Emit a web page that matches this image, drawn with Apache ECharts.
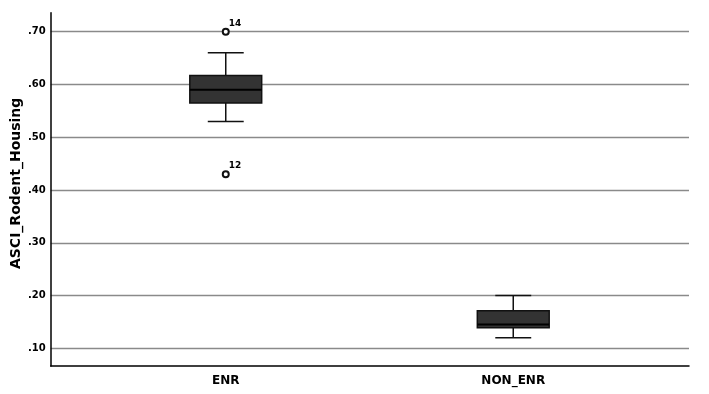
<!DOCTYPE html>
<html>
<head>
<meta charset="utf-8">
<script src="https://cdn.jsdelivr.net/npm/echarts@6/dist/echarts.min.js"></script>
<style>
  html, body { margin: 0; padding: 0; background: #fff; }
  #chart { width: 709px; height: 394px; }
</style>
</head>
<body>
<div id="chart"></div>
<script>
// box statistics per group
var categories = ['ENR', 'NON_ENR'];
var lowWhisker = [0.53, 0.12];
var q1 = [0.565, 0.139];
var median = [0.59, 0.145];
var q3 = [0.617, 0.171];
var highWhisker = [0.66, 0.20];

// outliers with case numbers
var outlierCat = ['ENR', 'ENR'];
var outlierVal = [0.70, 0.43];
var outlierId = ['14', '12'];

var yTicks = [0.10, 0.20, 0.30, 0.40, 0.50, 0.60, 0.70];
var yMin = 0.0665;
var yMax = 0.736;

var chart = echarts.init(document.getElementById('chart'));

var boxData = categories.map(function (c, i) {
    return [i, lowWhisker[i], q1[i], median[i], q3[i], highWhisker[i]];
});
var outlierData = outlierVal.map(function (v, i) {
    return [outlierCat[i], v, outlierId[i]];
});

// draws one SPSS-style box with half-width caps
function renderBox(params, api) {
    var idx = api.value(0);
    var x = api.coord([idx, 0])[0];
    var w = api.size([1, 0])[0] * 0.25;
    var yLo = api.coord([idx, api.value(1)])[1];
    var yQ1 = api.coord([idx, api.value(2)])[1];
    var yMed = api.coord([idx, api.value(3)])[1];
    var yQ3 = api.coord([idx, api.value(4)])[1];
    var yHi = api.coord([idx, api.value(5)])[1];
    var line = { stroke: '#111', lineWidth: 1.5 };
    return {
        type: 'group',
        children: [
            { type: 'line', shape: { x1: x, y1: yLo, x2: x, y2: yQ1 }, style: line },
            { type: 'line', shape: { x1: x, y1: yQ3, x2: x, y2: yHi }, style: line },
            { type: 'line', shape: { x1: x - w / 4, y1: yLo, x2: x + w / 4, y2: yLo }, style: line },
            { type: 'line', shape: { x1: x - w / 4, y1: yHi, x2: x + w / 4, y2: yHi }, style: line },
            { type: 'rect', shape: { x: x - w / 2, y: yQ3, width: w, height: yQ1 - yQ3 },
              style: { fill: '#333333', stroke: '#111', lineWidth: 1.5 } },
            { type: 'line', shape: { x1: x - w / 2, y1: yMed, x2: x + w / 2, y2: yMed },
              style: { stroke: '#000', lineWidth: 2 } }
        ]
    };
}

var option = {
    backgroundColor: '#ffffff',
    animation: false,
    grid: [
        { left: 50.7, right: 20, top: 12.7, bottom: 28, outerBoundsMode: 'none' },
        { left: 82, right: 52, top: 12.7, bottom: 28, outerBoundsMode: 'none' }
    ],
    xAxis: [
        {
            gridIndex: 0, type: 'value', min: 0, max: 1,
            axisLine: { show: true, lineStyle: { color: '#000', width: 1.5 } },
            axisTick: { show: false }, axisLabel: { show: false }, splitLine: { show: false }
        },
        {
            gridIndex: 1, type: 'category', data: categories,
            axisLine: { show: false }, axisTick: { show: false },
            axisLabel: {
                margin: 9, color: '#000', fontSize: 12, fontWeight: 'bold',
                fontFamily: 'DejaVu Sans'
            }
        }
    ],
    yAxis: [
        {
            gridIndex: 0, type: 'value', min: yMin, max: yMax,
            name: 'ASCI_Rodent_Housing', nameLocation: 'middle', nameGap: 27,
            nameMoveOverlap: false,
            nameTextStyle: { color: '#000', fontSize: 14, fontWeight: 'bold', fontFamily: 'DejaVu Sans',
                             padding: [0, 0, 0, 12] },
            axisLine: { show: true, lineStyle: { color: '#000', width: 1.5 } },
            axisTick: { show: false, customValues: yTicks },
            axisLabel: {
                customValues: yTicks, margin: 5, color: '#000', fontSize: 10,
                fontWeight: 'bold', fontFamily: 'DejaVu Sans',
                formatter: function (v) { return v.toFixed(2).replace(/^0/, ''); }
            },
            splitLine: { show: true, lineStyle: { color: '#8a8a8a', width: 1.3 } }
        },
        {
            gridIndex: 1, type: 'value', min: yMin, max: yMax, show: false,
            splitLine: { show: false }
        }
    ],
    series: [
        {
            type: 'custom', xAxisIndex: 1, yAxisIndex: 1,
            renderItem: renderBox, data: boxData, z: 5
        },
        {
            type: 'scatter', xAxisIndex: 1, yAxisIndex: 1,
            data: outlierData, symbol: 'emptyCircle', symbolSize: 6, z: 6,
            itemStyle: { color: '#111', borderColor: '#111', borderWidth: 1.6, opacity: 1 },
            label: {
                show: true, position: [7, -9], color: '#000', fontSize: 9,
                fontWeight: 'bold', fontFamily: 'DejaVu Sans',
                formatter: function (p) { return p.value[2]; }
            }
        }
    ]
};

chart.setOption(option);
</script>
</body>
</html>
